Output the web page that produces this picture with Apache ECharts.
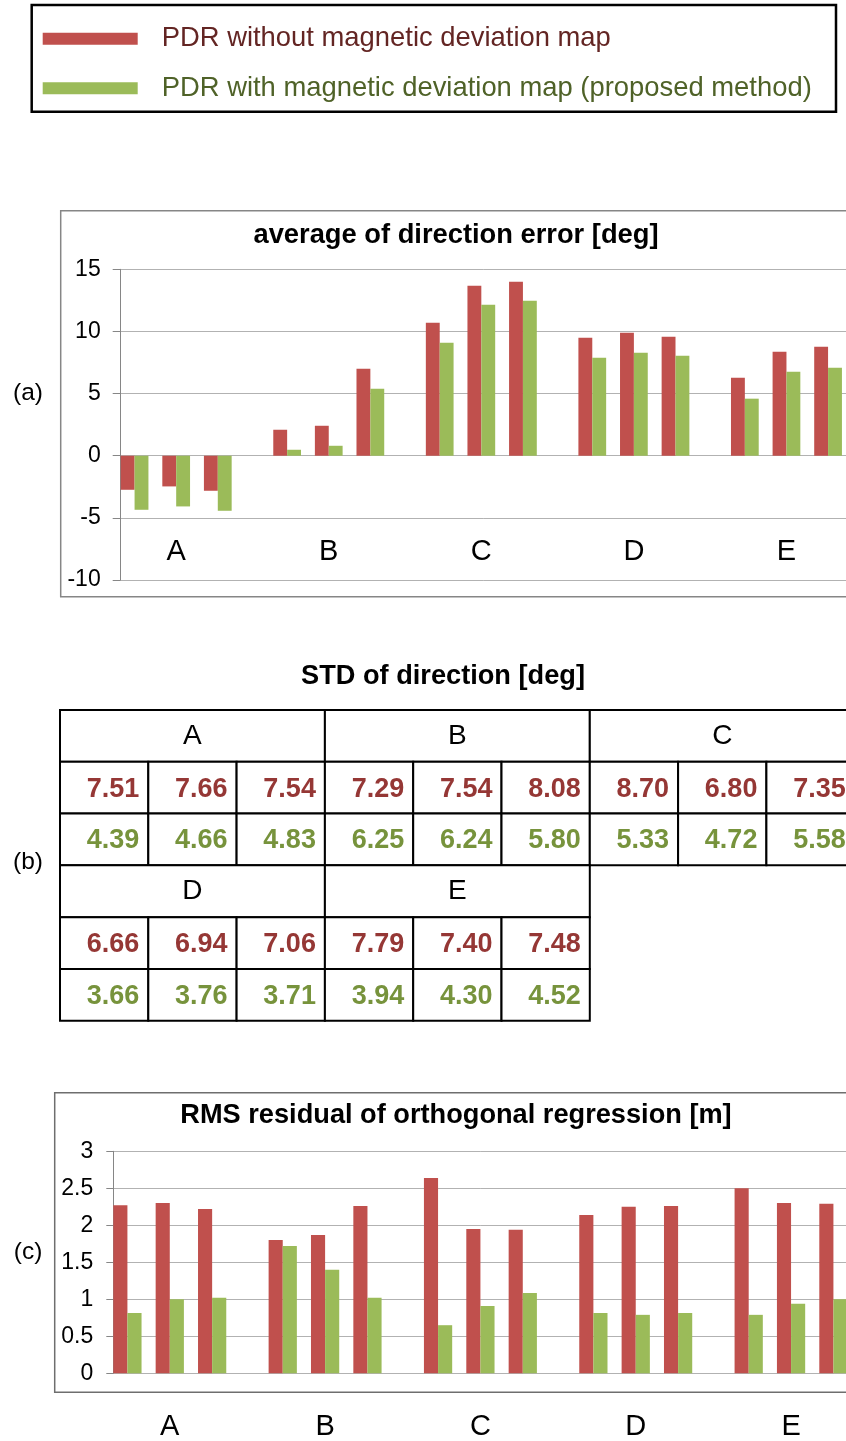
<!DOCTYPE html>
<html>
<head>
<meta charset="utf-8">
<script src="https://cdn.jsdelivr.net/npm/echarts@6/dist/echarts.min.js"></script>
<style>
  html, body { margin: 0; padding: 0; background: #fff; }
  #main { width: 846px; height: 1441px; }
</style>
</head>
<body>
<div id="main"></div>
<script>
// ---- data ----
const groups = ['A', 'B', 'C', 'D', 'E'];
const seriesNames = [
  'PDR without magnetic deviation map',
  'PDR with magnetic deviation map (proposed method)'
];
// (a) average of direction error [deg], three runs per course
const dirErrWithout = [-2.74, -2.47, -2.82, 2.09, 2.41, 7.00, 10.70, 13.68, 14.00, 9.49, 9.90, 9.57, 6.28, 8.37, 8.77];
const dirErrWith    = [-4.35, -4.08, -4.43, 0.48, 0.80, 5.39, 9.09, 12.15, 12.47, 7.88, 8.29, 8.05, 4.59, 6.76, 7.08];
// (b) STD of direction [deg]
const stdWithout = [7.51, 7.66, 7.54, 7.29, 7.54, 8.08, 8.70, 6.80, 7.35, 6.66, 6.94, 7.06, 7.79, 7.40, 7.48];
const stdWith    = [4.39, 4.66, 4.83, 6.25, 6.24, 5.80, 5.33, 4.72, 5.58, 3.66, 3.76, 3.71, 3.94, 4.30, 4.52];
// (c) RMS residual of orthogonal regression [m]
const rmsWithout = [2.27, 2.30, 2.22, 1.80, 1.87, 2.26, 2.64, 1.95, 1.94, 2.14, 2.25, 2.26, 2.50, 2.30, 2.29];
const rmsWith    = [0.815, 1.00, 1.02, 1.72, 1.40, 1.02, 0.65, 0.91, 1.085, 0.815, 0.79, 0.815, 0.79, 0.94, 1.00];
// value axis ticks
const dirErrTicks = { min: -10, max: 15, interval: 5 };
const rmsTicks = { min: 0, max: 3, interval: 0.5 };

// ---- styling ----
const FONT = "'Liberation Sans', Arial, sans-serif";
const RED = '#C0504D';
const GREEN = '#9BBB59';
const RED_TEXT = '#953735';
const GREEN_TEXT = '#77933C';

// ---- slot layout on the category axis ----
// each run takes three slots (without, with, blank); two blank slots separate courses
const RUNS_PER_GROUP = 3;
const SLOTS_PER_RUN = 3;
const SLOTS_PER_GROUP = RUNS_PER_GROUP * SLOTS_PER_RUN + 2;
const N_SLOTS = SLOTS_PER_GROUP * (groups.length - 1) + RUNS_PER_GROUP * SLOTS_PER_RUN + 1;

function slotOf(i) {
  const g = Math.floor(i / RUNS_PER_GROUP), k = i % RUNS_PER_GROUP;
  return g * SLOTS_PER_GROUP + k * SLOTS_PER_RUN;
}
function spread(values, offset) {
  const out = new Array(N_SLOTS).fill('-');
  values.forEach((v, i) => { out[slotOf(i) + offset] = v; });
  return out;
}
// course letter sits under the middle run of each course
const slotLabels = new Array(N_SLOTS).fill('');
groups.forEach((g, gi) => { slotLabels[gi * SLOTS_PER_GROUP + SLOTS_PER_RUN + 1] = g; });

const slotA = 13.87, slotC = 14.12;

// ---- table cells ----
const tableCols = ['0', '1', '2', '3', '4', '5', '6', '7', '8'];
const tableRows = ['0', '1', '2', '3', '4', '5'];
const tableCells = [];
groups.forEach((g, gi) => {
  const col0 = (gi % 3) * 3;
  const row0 = gi < 3 ? 0 : 3;
  tableCells.push({ col: col0, row: row0, span: 3, text: g, kind: 'head' });
  for (let k = 0; k < 3; k++) {
    const i = gi * 3 + k;
    tableCells.push({ col: col0 + k, row: row0 + 1, span: 1, text: stdWithout[i].toFixed(2), kind: 'without' });
    tableCells.push({ col: col0 + k, row: row0 + 2, span: 1, text: stdWith[i].toFixed(2), kind: 'with' });
  }
});

function barSeries(name, data, color, xi, yi) {
  return {
    type: 'bar', name, data, xAxisIndex: xi, yAxisIndex: yi,
    barGap: '-100%', barCategoryGap: '0%',
    itemStyle: { color, borderWidth: 0 },
    emphasis: { disabled: true },
    animation: false
  };
}

const gridLine = { lineStyle: { color: '#b2b2b2', width: 1 } };
const axisGray = '#868686';

const option = {
  backgroundColor: '#fff',
  animation: false,
  textStyle: { fontFamily: FONT },
  legend: {
    orient: 'vertical', left: 42.7, top: 23.7, padding: 0,
    itemWidth: 95, itemHeight: 12, itemGap: 19.6, icon: 'rect',
    selectedMode: false,
    itemStyle: { borderWidth: 0 },
    textStyle: { fontSize: 27.4, lineHeight: 30, fontFamily: FONT, padding: [0, 0, 0, 19] },
    data: [
      { name: seriesNames[0], textStyle: { color: '#632523' } },
      { name: seriesNames[1], textStyle: { color: '#4F6228' } }
    ]
  },
  grid: [
    { left: 120.7, top: 269.3, width: N_SLOTS * slotA, height: 310.7, containLabel: false, outerBoundsMode: 'none' },
    { left: 113.3, top: 1151.3, width: N_SLOTS * slotC, height: 222, containLabel: false, outerBoundsMode: 'none' },
    { left: 60, top: 710, width: 9 * 88.3, height: 310.7, containLabel: false, outerBoundsMode: 'none' }
  ],
  xAxis: [
    {
      gridIndex: 0, type: 'category', data: slotLabels,
      axisLine: { show: false, onZero: false }, axisTick: { show: false }, splitLine: { show: false },
      axisLabel: { interval: 0, inside: true, margin: 14, fontSize: 29, color: '#000', fontFamily: FONT, padding: [0, slotA, 0, 0] }
    },
    {
      gridIndex: 1, type: 'category', data: slotLabels,
      axisLine: { show: false, onZero: false }, axisTick: { show: false }, splitLine: { show: false },
      axisLabel: { interval: 0, margin: 39, fontSize: 29, color: '#000', fontFamily: FONT, padding: [0, slotC, 0, 0] }
    },
    {
      gridIndex: 2, type: 'category', data: tableCols, show: false
    }
  ],
  yAxis: [
    {
      gridIndex: 0, type: 'value', min: dirErrTicks.min, max: dirErrTicks.max, interval: dirErrTicks.interval,
      axisLine: { show: true, lineStyle: { color: axisGray, width: 1 } },
      axisTick: { show: true, length: 8, lineStyle: { color: axisGray } },
      axisLabel: { margin: 20, fontSize: 23, color: '#000', fontFamily: FONT },
      splitLine: gridLine
    },
    {
      gridIndex: 1, type: 'value', min: rmsTicks.min, max: rmsTicks.max, interval: rmsTicks.interval,
      axisLine: { show: true, lineStyle: { color: axisGray, width: 1 } },
      axisTick: { show: true, length: 7, lineStyle: { color: axisGray } },
      axisLabel: { margin: 20, fontSize: 23, color: '#000', fontFamily: FONT },
      splitLine: gridLine
    },
    {
      gridIndex: 2, type: 'category', data: tableRows, inverse: true, show: false
    }
  ],
  series: [
    barSeries(seriesNames[0], spread(dirErrWithout, 0), RED, 0, 0),
    barSeries(seriesNames[1], spread(dirErrWith, 1), GREEN, 0, 0),
    barSeries(seriesNames[0], spread(rmsWithout, 0), RED, 1, 1),
    barSeries(seriesNames[1], spread(rmsWith, 1), GREEN, 1, 1),
    {
      type: 'custom', xAxisIndex: 2, yAxisIndex: 2, animation: false, silent: true,
      data: tableCells.map(c => [c.col, c.row, c.span]),
      renderItem: function (params, api) {
        const cell = tableCells[params.dataIndex];
        const p = api.coord([api.value(0), api.value(1)]);
        const sz = api.size([1, 1]);
        const w = sz[0] * api.value(2), h = sz[1];
        const x = p[0] - sz[0] / 2, y = p[1] - h / 2;
        const head = cell.kind === 'head';
        return {
          type: 'group',
          children: [
            { type: 'rect', shape: { x, y, width: w, height: h },
              style: { fill: '#fff', stroke: '#000', lineWidth: 2 } },
            { type: 'text', z2: 10,
              style: {
                text: cell.text,
                x: head ? x + w / 2 : x + w - 9,
                y: y + h / 2 + (head ? 0 : 1.5),
                align: head ? 'center' : 'right',
                verticalAlign: 'middle',
                fontFamily: FONT,
                fontSize: head ? 28 : 27,
                fontWeight: head ? 'normal' : 'bold',
                fill: head ? '#000' : (cell.kind === 'without' ? RED_TEXT : GREEN_TEXT)
              } }
          ]
        };
      }
    }
  ],
  graphic: [
    { type: 'rect', silent: true, z: -10, shape: { x: 31.7, y: 5, width: 804.3, height: 106.7 },
      style: { fill: 'none', stroke: '#000', lineWidth: 2.5 } },
    { type: 'rect', silent: true, z: -10, shape: { x: 60.7, y: 210.7, width: 900, height: 386 },
      style: { fill: 'none', stroke: axisGray, lineWidth: 1.5 } },
    { type: 'rect', silent: true, z: -10, shape: { x: 54.7, y: 1092.7, width: 900, height: 299.6 },
      style: { fill: 'none', stroke: '#6e6e6e', lineWidth: 1.5 } },
    { type: 'text', x: 456, y: 235, style: { text: 'average of direction error [deg]', fontFamily: FONT, fontSize: 27.3, fontWeight: 'bold', fill: '#000', align: 'center', verticalAlign: 'middle' } },
    { type: 'text', x: 443, y: 677, style: { text: 'STD of direction [deg]', fontFamily: FONT, fontSize: 27.2, fontWeight: 'bold', fill: '#000', align: 'center', verticalAlign: 'middle' } },
    { type: 'text', x: 456, y: 1116, style: { text: 'RMS residual of orthogonal regression [m]', fontFamily: FONT, fontSize: 27.2, fontWeight: 'bold', fill: '#000', align: 'center', verticalAlign: 'middle' } },
    { type: 'text', x: 28, y: 393, style: { text: '(a)', fontFamily: FONT, fontSize: 24.5, fill: '#000', align: 'center', verticalAlign: 'middle' } },
    { type: 'text', x: 28, y: 862, style: { text: '(b)', fontFamily: FONT, fontSize: 24.5, fill: '#000', align: 'center', verticalAlign: 'middle' } },
    { type: 'text', x: 28, y: 1252, style: { text: '(c)', fontFamily: FONT, fontSize: 24.5, fill: '#000', align: 'center', verticalAlign: 'middle' } }
  ]
};

const chart = echarts.init(document.getElementById('main'), null, { renderer: 'canvas' });
chart.setOption(option);
</script>
</body>
</html>
